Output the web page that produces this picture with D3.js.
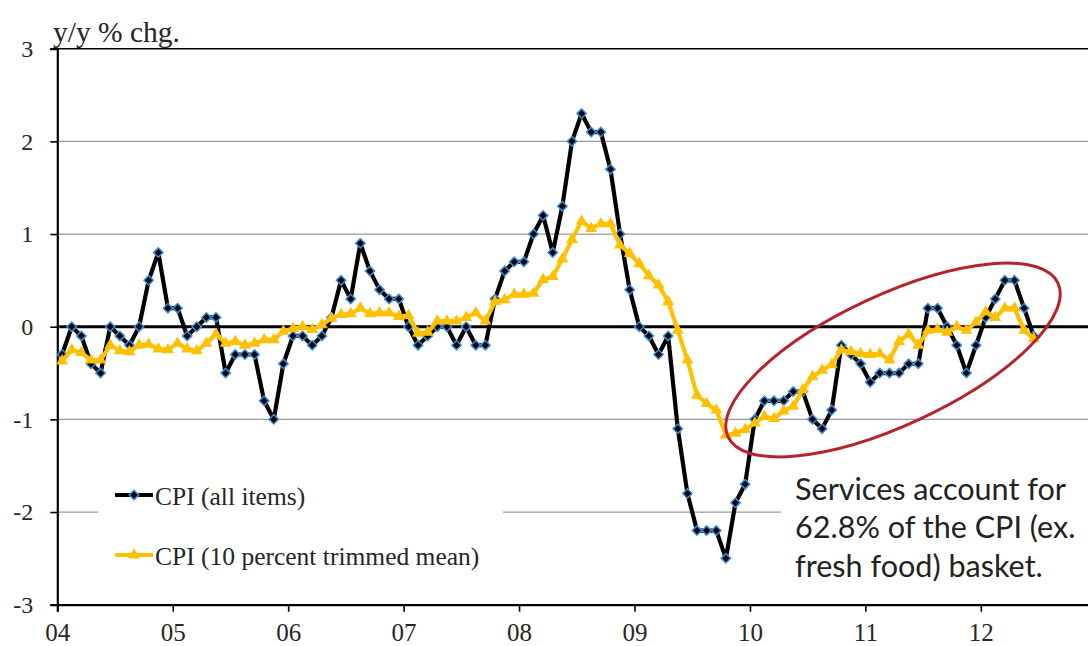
<!DOCTYPE html>
<html>
<head>
<meta charset="utf-8">
<script src="https://cdn.jsdelivr.net/npm/d3@7"></script>
<style>
  html, body { margin: 0; padding: 0; background: #fff; }
  svg { display: block; }
</style>
</head>
<body>
<svg id="chart" width="1088" height="646"></svg>
<script>
// ---------------- DATA ----------------
const yearLabels = ["04", "05", "06", "07", "08", "09", "10", "11", "12"];
const yTicks = [-3, -2, -1, 0, 1, 2, 3];

// Monthly, Jan 2004 - Jun 2012
const cpiAll = [
  -0.3, 0.0, -0.1, -0.4, -0.5, 0.0, -0.1, -0.2, 0.0, 0.5, 0.8, 0.2,
  0.2, -0.1, 0.0, 0.1, 0.1, -0.5, -0.3, -0.3, -0.3, -0.8, -1.0, -0.4,
  -0.1, -0.1, -0.2, -0.1, 0.1, 0.5, 0.3, 0.9, 0.6, 0.4, 0.3, 0.3,
  0.0, -0.2, -0.1, 0.0, 0.0, -0.2, 0.0, -0.2, -0.2, 0.3, 0.6, 0.7,
  0.7, 1.0, 1.2, 0.8, 1.3, 2.0, 2.3, 2.1, 2.1, 1.7, 1.0, 0.4,
  0.0, -0.1, -0.3, -0.1, -1.1, -1.8, -2.2, -2.2, -2.2, -2.5, -1.9, -1.7,
  -1.0, -0.8, -0.8, -0.8, -0.7, -0.7, -1.0, -1.1, -0.9, -0.2, -0.3, -0.4,
  -0.6, -0.5, -0.5, -0.5, -0.4, -0.4, 0.2, 0.2, 0.0, -0.2, -0.5, -0.2,
  0.1, 0.3, 0.5, 0.5, 0.2, -0.1
];
const cpiTrimmed = [
  -0.37, -0.25, -0.28, -0.36, -0.36, -0.20, -0.26, -0.27, -0.20, -0.19, -0.24, -0.25,
  -0.18, -0.24, -0.26, -0.18, -0.08, -0.18, -0.16, -0.20, -0.18, -0.14, -0.14, -0.05,
  -0.02, 0.00, -0.03, 0.02, 0.09, 0.13, 0.14, 0.20, 0.14, 0.15, 0.15, 0.11,
  0.12, -0.07, -0.06, 0.06, 0.06, 0.06, 0.10, 0.15, 0.06, 0.27, 0.29, 0.35,
  0.35, 0.36, 0.51, 0.54, 0.73, 0.94, 1.14, 1.06, 1.11, 1.11, 0.88, 0.79,
  0.68, 0.55, 0.45, 0.27, -0.04, -0.36, -0.74, -0.83, -0.90, -1.17, -1.15, -1.11,
  -1.04, -0.97, -0.99, -0.91, -0.86, -0.68, -0.54, -0.47, -0.41, -0.25, -0.27, -0.29,
  -0.30, -0.29, -0.36, -0.16, -0.08, -0.20, -0.04, -0.03, -0.06, 0.00, -0.04, 0.05,
  0.16, 0.10, 0.20, 0.20, -0.04, -0.13
];
const seriesNames = ["CPI (all items)", "CPI (10 percent trimmed mean)"];
const yTitle = "y/y % chg.";
const noteLines = ["Services account for", "62.8% of the CPI (ex.", "fresh food) basket."];

// categories (month labels from Jan 2004)
const categories = cpiAll.map((_, i) => (2004 + Math.floor(i / 12)) + "-" + String(i % 12 + 1).padStart(2, "0"));

// ---------------- LAYOUT ----------------
const svg = d3.select("#chart");
const W = 1088, H = 646;
const plotL = 57.3, plotT = 48.7, plotB = 604.7;
const monthW = 9.62;
const nMonths = yearLabels.length * 12; // 108

const x = d3.scaleLinear().domain([0, nMonths]).range([plotL, plotL + nMonths * monthW]);
const y = d3.scaleLinear().domain([-3, 3]).range([plotB, plotT]);

const serif = "'Liberation Serif', 'Times New Roman', serif";
const txtColor = "#262626";

// gridlines
svg.append("g").selectAll("line")
  .data(yTicks.filter(v => v !== -3 && v !== 0))
  .join("line")
  .attr("x1", plotL).attr("x2", W)
  .attr("y1", d => y(d)).attr("y2", d => y(d))
  .attr("stroke", d => d === 3 ? "#000" : "#9a9a9a")
  .attr("stroke-width", d => d === 3 ? 1.6 : 1.3);

// Y axis
const yAxis = svg.append("g")
  .attr("transform", `translate(${plotL},0)`)
  .call(d3.axisLeft(y).tickValues(yTicks).tickSize(7).tickPadding(17).tickFormat(d3.format("d")));
yAxis.select(".domain").attr("stroke", "#000").attr("stroke-width", 2.2);
yAxis.selectAll(".tick line").attr("stroke", "#000").attr("stroke-width", 1.6);
yAxis.selectAll(".tick text")
  .attr("font-family", serif).attr("font-size", 24).attr("fill", txtColor)
  .text(d => d < 0 ? "-" + Math.abs(d) : d);

// X axis
const xAxis = svg.append("g")
  .attr("transform", `translate(0,${plotB})`)
  .call(d3.axisBottom(x)
    .tickValues(yearLabels.map((_, i) => i * 12))
    .tickSize(7).tickPadding(11.5)
    .tickFormat((d, i) => yearLabels[i]));
xAxis.select(".domain").attr("stroke", "#000").attr("stroke-width", 2.2);
xAxis.selectAll(".tick line").attr("stroke", "#000").attr("stroke-width", 1.6);
xAxis.selectAll(".tick text")
  .attr("font-family", serif).attr("font-size", 25).attr("fill", txtColor);

// white boxes (legend + annotation) covering the -2 gridline
svg.append("rect").attr("x", 98).attr("y", 472).attr("width", 405).attr("height", 115).attr("fill", "#fff");
svg.append("rect").attr("x", 781).attr("y", 468).attr("width", W - 781).attr("height", 128).attr("fill", "#fff");

// zero line
svg.append("line")
  .attr("x1", plotL + 2).attr("x2", W)
  .attr("y1", y(0)).attr("y2", y(0))
  .attr("stroke", "#000").attr("stroke-width", 3);

// Y title
svg.append("text")
  .attr("x", 53).attr("y", 42)
  .attr("font-family", serif).attr("font-size", 29.5).attr("fill", txtColor)
  .text(yTitle);

// series
const xPos = i => x(i + 0.5);
const line = d3.line().x((d, i) => xPos(i)).y(d => y(d));

const blue = "#3a8ddc";
const gold = "#FFC000";
const diamond = d3.symbol(d3.symbolSquare, 44);
const tri = d3.symbol(d3.symbolTriangle, 62);

// all items
svg.append("path").datum(cpiAll)
  .attr("d", line).attr("fill", "none")
  .attr("stroke", "#000").attr("stroke-width", 4.2).attr("stroke-linejoin", "round");
svg.append("g").selectAll("path").data(cpiAll).join("path")
  .attr("d", diamond)
  .attr("transform", (d, i) => `translate(${xPos(i)},${y(d)}) rotate(45)`)
  .attr("fill", "#000").attr("stroke", blue).attr("stroke-width", 1.5);

// trimmed mean
svg.append("path").datum(cpiTrimmed)
  .attr("d", line).attr("fill", "none")
  .attr("stroke", gold).attr("stroke-width", 4.2).attr("stroke-linejoin", "round");
svg.append("g").selectAll("path").data(cpiTrimmed).join("path")
  .attr("d", tri)
  .attr("transform", (d, i) => `translate(${xPos(i)},${y(d)})`)
  .attr("fill", gold);

// legend
const legend = svg.append("g");
const legItems = [
  { name: seriesNames[0], ly: 495, ty: 505, color: "#000", marker: "diamond" },
  { name: seriesNames[1], ly: 555, ty: 565, color: gold, marker: "tri" }
];
legItems.forEach(it => {
  legend.append("line").attr("x1", 115).attr("x2", 153).attr("y1", it.ly).attr("y2", it.ly)
    .attr("stroke", it.color).attr("stroke-width", 4.2);
  if (it.marker === "diamond") {
    legend.append("path").attr("d", diamond)
      .attr("transform", `translate(134,${it.ly}) rotate(45)`)
      .attr("fill", "#000").attr("stroke", blue).attr("stroke-width", 1.5);
  } else {
    legend.append("path").attr("d", tri)
      .attr("transform", `translate(134,${it.ly})`).attr("fill", gold);
  }
  legend.append("text").attr("x", 155).attr("y", it.ty)
    .attr("font-family", serif).attr("font-size", 25.5).attr("fill", txtColor)
    .text(it.name);
});

// ellipse highlight
svg.append("ellipse")
  .attr("cx", 0).attr("cy", 0).attr("rx", 182).attr("ry", 65)
  .attr("transform", "translate(893,360) rotate(-25)")
  .attr("fill", "none").attr("stroke", "#B8232B").attr("stroke-width", 3);

// annotation
const note = svg.append("g");
const noteT = note.selectAll("text").data(noteLines).join("text")
  .attr("x", 795).attr("y", (d, i) => 499.5 + i * 38.8)
  .attr("font-family", "Lato, 'Open Sans', sans-serif")
  .attr("font-size", 30).attr("fill", "#222")
  .text(d => d);
// fit font size so first line spans ~271px like the reference
const w0 = noteT.nodes()[0].getComputedTextLength();
if (w0 > 0) noteT.attr("font-size", 30 * 271 / w0);
</script>
</body>
</html>
